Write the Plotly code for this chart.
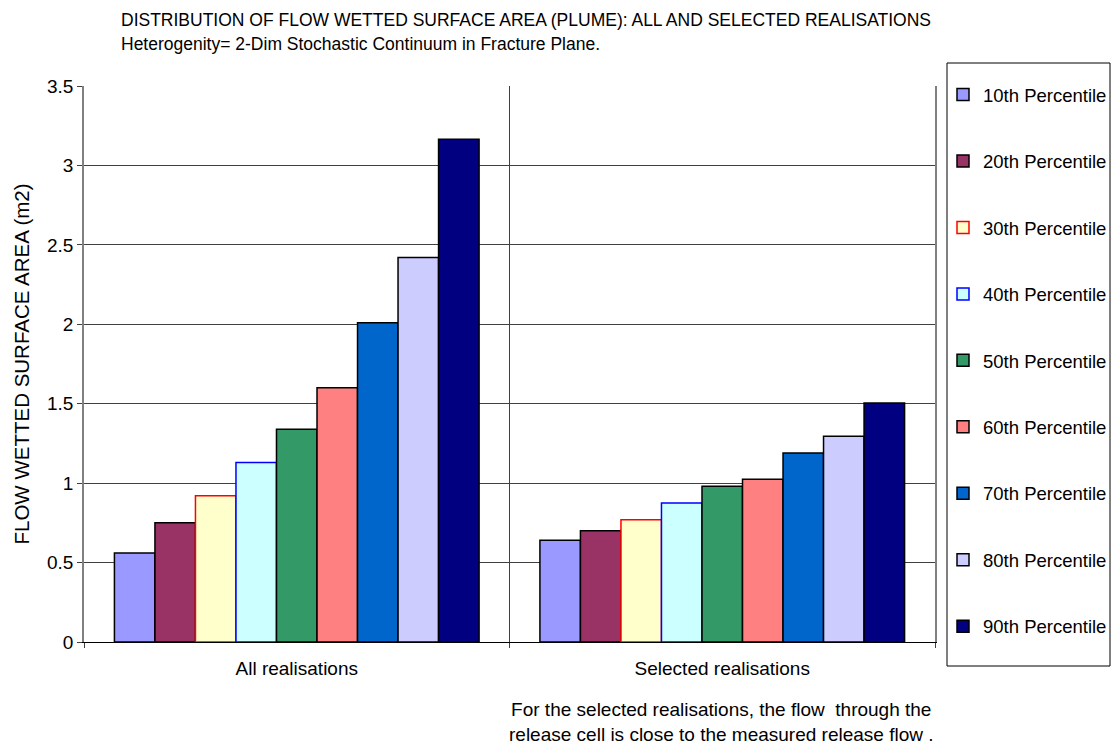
import plotly.graph_objects as go

categories = ["All realisations", "Selected realisations"]
percentiles = ["10th Percentile", "20th Percentile", "30th Percentile", "40th Percentile",
               "50th Percentile", "60th Percentile", "70th Percentile", "80th Percentile",
               "90th Percentile"]
all_realisations = [0.56, 0.75, 0.92, 1.13, 1.34, 1.60, 2.01, 2.42, 3.165]
selected_realisations = [0.64, 0.70, 0.77, 0.875, 0.98, 1.025, 1.19, 1.295, 1.505]

fill_colors = ["#9999FF", "#993366", "#FFFFCC", "#CCFFFF", "#339966",
               "#FF8080", "#0066CC", "#CCCCFF", "#000080"]
edge_colors = ["#000000", "#000000", "#FF0000", "#0000FF", "#000000",
               "#000000", "#000000", "#000000", "#000000"]

fig = go.Figure()
for i, name in enumerate(percentiles):
    fig.add_trace(go.Bar(
        x=categories,
        y=[all_realisations[i], selected_realisations[i]],
        name=name,
        legendgroup=name,
        marker=dict(color=fill_colors[i], line=dict(color=edge_colors[i], width=1.5)),
    ))

font_family = "Liberation Sans, Arial, sans-serif"

# plot area spans x 84..935, y 86..642 in pixels
L, R, T, B = 84, 935, 86, 642
W, H = R - L, B - T


def px_x(x):
    return (x - L) / W


def px_y(y):
    return (B - y) / H


fig.update_layout(
    width=1111, height=744,
    margin=dict(l=L, r=1111 - R, t=T, b=744 - B, autoexpand=False),
    paper_bgcolor="white", plot_bgcolor="white",
    barmode="group", bargap=0.143, bargroupgap=0,
    font=dict(family=font_family, size=19, color="black"),
    showlegend=True,
    legend=dict(
        x=px_x(943), y=px_y(76), xanchor="left", yanchor="top",
        borderwidth=0, bgcolor="rgba(0,0,0,0)",
        font=dict(size=18.5), tracegroupgap=39.4,
        itemwidth=30, maxheight=700,
    ),
    xaxis=dict(
        type="category", range=[-0.5, 1.5],
        tickson="boundaries", ticks="outside", ticklen=5, tickcolor="#404040",
        showgrid=True, gridcolor="#404040", gridwidth=1,
        showline=True, linecolor="black", linewidth=1,
        tickfont=dict(size=19), ticklabelstandoff=9,
    ),
    yaxis=dict(
        range=[0, 3.5], dtick=0.5,
        ticks="outside", ticklen=5, tickcolor="#404040",
        showgrid=True, gridcolor="#404040", gridwidth=1,
        showline=True, linecolor="#808080", linewidth=1.5, mirror=True,
        zeroline=False,
        title=dict(text="FLOW WETTED SURFACE AREA (m2)", font=dict(size=20.5), standoff=12),
        tickfont=dict(size=19),
    ),
)

# legend frame
fig.add_shape(
    type="rect", xref="paper", yref="paper",
    x0=px_x(947), x1=px_x(1110), y0=px_y(666), y1=px_y(63),
    line=dict(color="black", width=1), fillcolor="rgba(0,0,0,0)", layer="below",
)

fig.add_annotation(
    xref="paper", yref="paper", x=px_x(119), y=px_y(20),
    xanchor="left", yanchor="middle", showarrow=False, align="left",
    text="DISTRIBUTION OF FLOW WETTED SURFACE AREA (PLUME): ALL AND SELECTED REALISATIONS",
    font=dict(size=17.5),
)
fig.add_annotation(
    xref="paper", yref="paper", x=px_x(119), y=px_y(44),
    xanchor="left", yanchor="middle", showarrow=False, align="left",
    text="Heterogenity= 2-Dim Stochastic Continuum in Fracture Plane.",
    font=dict(size=17.5),
)
fig.add_annotation(
    xref="paper", yref="paper", x=px_x(721), y=px_y(722),
    xanchor="center", yanchor="middle", showarrow=False, align="center",
    text="For the selected realisations, the flow  through the<br>release cell is close to the measured release flow .",
    font=dict(size=19),
)

fig.write_html("out.html")
